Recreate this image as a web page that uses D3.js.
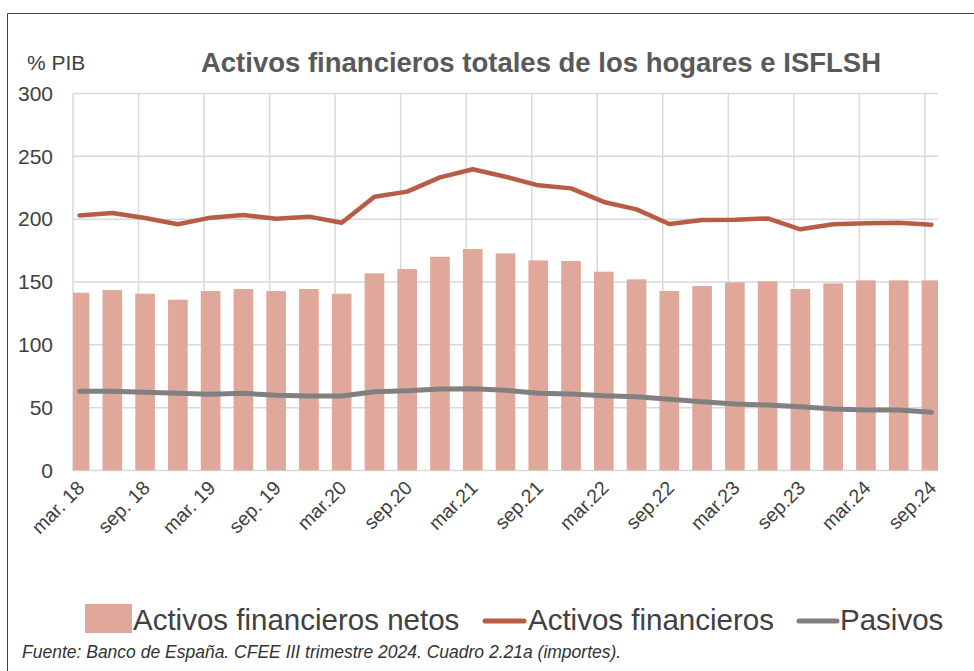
<!DOCTYPE html>
<html>
<head>
<meta charset="utf-8">
<script src="https://cdn.jsdelivr.net/npm/d3@7"></script>
<style>
  body { margin: 0; background: #fff; }
  svg { display: block; font-family: "Liberation Sans", Arial, sans-serif; }
</style>
</head>
<body>
<div id="chart"></div>
<script>
// quarterly data, % of GDP
const quarters = ["mar. 18", "jun.18", "sep. 18", "dic.18", "mar. 19", "jun.19", "sep. 19", "dic.19",
  "mar.20", "jun.20", "sep.20", "dic.20", "mar.21", "jun.21", "sep.21", "dic.21",
  "mar.22", "jun.22", "sep.22", "dic.22", "mar.23", "jun.23", "sep.23", "dic.23",
  "mar.24", "jun.24", "sep.24"];
const netos = [141.5, 143.6, 140.7, 135.9, 142.8, 144.4, 142.8, 144.4, 140.7, 156.9, 160.3, 170.1, 176.2, 172.8,
  167.2, 166.7, 158.2, 152.1, 142.8, 146.8, 149.7, 150.5, 144.4, 148.9, 151.3, 151.3, 151.3];
const activos = [203, 204.9, 200.9, 195.9, 201.2, 203.3, 200.4, 202, 197.2, 217.9, 221.9, 233.3, 239.7, 233.8,
  226.9, 224.5, 213.7, 207.8, 196.2, 199.3, 199.6, 200.6, 191.9, 195.9, 196.7, 197.2, 195.6];
const pasivos = [63.0, 63.1, 62.2, 61.4, 60.6, 61.4, 59.8, 59.3, 59.3, 62.7, 63.5, 64.9, 65.1, 63.8,
  61.4, 60.9, 59.5, 58.7, 56.7, 54.8, 52.9, 52.1, 50.8, 48.9, 48.1, 48.1, 46.3];
const yTicks = [0, 50, 100, 150, 200, 250, 300];

const W = 974, H = 671;
const plot = { left: 73, right: 938, top: 93.5, bottom: 470.5 };
const colNetos = "#e0a89b", colActivos = "#b85c45", colPasivos = "#808080";

const svg = d3.select("#chart").append("svg")
  .attr("width", W).attr("height", H);

// outer frame
svg.append("path")
  .attr("d", `M7.5,${H} V13.5 H${W}`)
  .attr("fill", "none").attr("stroke", "#404040").attr("stroke-width", 1);

const x = d3.scaleLinear().domain([-0.2, quarters.length - 0.8]).range([plot.left, plot.right]);
const y = d3.scaleLinear().domain([0, 300]).range([plot.bottom, plot.top]);
const step = x(1) - x(0);

svg.append("text")
  .attr("x", 541).attr("y", 71.5)
  .attr("text-anchor", "middle")
  .attr("font-size", 27.5).attr("font-weight", "bold").attr("fill", "#595959")
  .text("Activos financieros totales de los hogares e ISFLSH");

svg.append("text")
  .attr("x", 27).attr("y", 70)
  .attr("font-size", 21).attr("fill", "#404040")
  .text("% PIB");

// grid
const grid = svg.append("g");
grid.selectAll("line.h").data(yTicks).join("line")
  .attr("x1", plot.left).attr("x2", plot.right)
  .attr("y1", d => y(d)).attr("y2", d => y(d))
  .attr("stroke", "#d9d9d9").attr("stroke-width", 1.5);

const vIdx = d3.range(0, quarters.length, 2).map(i => i - 0.2);
grid.selectAll("line.v").data(vIdx).join("line")
  .attr("x1", d => x(d)).attr("x2", d => x(d))
  .attr("y1", plot.top).attr("y2", plot.bottom)
  .attr("stroke", "#d9d9d9").attr("stroke-width", 1.5);

svg.append("g")
  .attr("transform", `translate(${plot.left - 20},0)`)
  .call(d3.axisLeft(y).tickValues(yTicks).tickSize(0).tickPadding(0))
  .call(g => g.select(".domain").remove())
  .call(g => g.selectAll("text").attr("font-size", 21).attr("fill", "#404040")
    .attr("font-family", "Liberation Sans, Arial, sans-serif"));

svg.append("clipPath").attr("id", "clip")
  .append("rect")
  .attr("x", plot.left).attr("y", plot.top - 10)
  .attr("width", plot.right - plot.left).attr("height", plot.bottom - plot.top + 10);

const barW = step * 0.6;
svg.append("g").attr("clip-path", "url(#clip)")
  .selectAll("rect").data(netos).join("rect")
  .attr("x", (d, i) => x(i) - barW / 2)
  .attr("width", barW)
  .attr("y", d => y(d))
  .attr("height", d => y(0) - y(d))
  .attr("fill", colNetos);

const line = d3.line().x((d, i) => x(i)).y(d => y(d));

svg.append("path").datum(pasivos)
  .attr("d", line).attr("fill", "none")
  .attr("stroke", colPasivos).attr("stroke-width", 5)
  .attr("stroke-linejoin", "round").attr("stroke-linecap", "round");

svg.append("path").datum(activos)
  .attr("d", line).attr("fill", "none")
  .attr("stroke", colActivos).attr("stroke-width", 4.5)
  .attr("stroke-linejoin", "round").attr("stroke-linecap", "round");

// x labels every two quarters
const labIdx = d3.range(0, quarters.length, 2);
svg.append("g").selectAll("text").data(labIdx).join("text")
  .attr("transform", d => `translate(${x(d - 0.2) + 3},${plot.bottom + 9}) rotate(-45)`)
  .attr("text-anchor", "end")
  .attr("dy", "0.7em")
  .attr("font-size", 19.5).attr("fill", "#404040")
  .text(d => quarters[d]);

// legend
const lg = svg.append("g").attr("font-size", 29.5).attr("fill", "#404040");
lg.append("rect").attr("x", 85).attr("y", 604).attr("width", 47).attr("height", 29).attr("fill", colNetos);
lg.append("text").attr("x", 133).attr("y", 630).text("Activos financieros netos");
lg.append("line").attr("x1", 485).attr("x2", 524).attr("y1", 621).attr("y2", 621)
  .attr("stroke", colActivos).attr("stroke-width", 5).attr("stroke-linecap", "round");
lg.append("text").attr("x", 528).attr("y", 630).text("Activos financieros");
lg.append("line").attr("x1", 799).attr("x2", 837).attr("y1", 621).attr("y2", 621)
  .attr("stroke", colPasivos).attr("stroke-width", 5).attr("stroke-linecap", "round");
lg.append("text").attr("x", 840).attr("y", 630).text("Pasivos");

svg.append("text")
  .attr("x", 22).attr("y", 658)
  .attr("font-size", 17.5).attr("font-style", "italic").attr("fill", "#333")
  .text("Fuente: Banco de España. CFEE III trimestre 2024. Cuadro 2.21a (importes).");
</script>
</body>
</html>
